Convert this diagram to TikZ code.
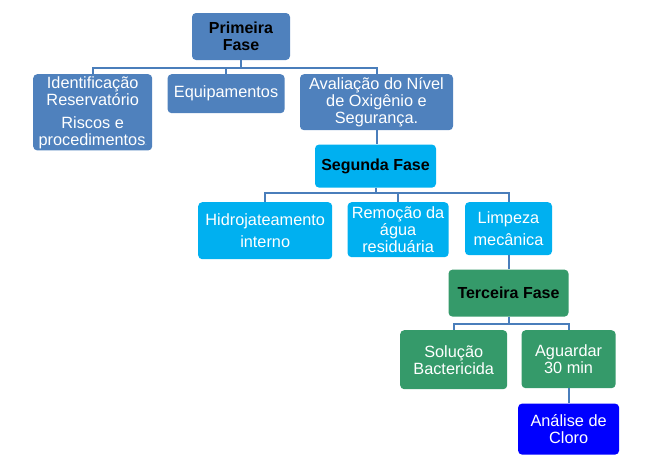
\documentclass[tikz,border=0pt]{standalone}
\usepackage{fontspec}
\setmainfont{Liberation Sans}
\usetikzlibrary{positioning}
\definecolor{azul}{HTML}{4F81BD}
\definecolor{linha}{HTML}{4A7EBB}
\definecolor{ciano}{HTML}{00B0F0}
\definecolor{verde}{HTML}{359A6A}
\definecolor{anil}{HTML}{0000FF}
\tikzset{
    x=1pt, y=-1pt, % pixel units, y downwards
    node distance=15pt, % gap between boxes in a row
    caixa/.style={rounded corners=4pt, inner sep=2pt, align=center,
        font=\fontsize{16.3}{17}\selectfont}, % common box
    fase/.style={caixa, text=black, font=\fontsize{16}{17}\selectfont\bfseries},
    item/.style={caixa, text=white},
    elo/.style={draw=linha, line width=2pt}, % connectors
}
\begin{document}
\begin{tikzpicture}
    \useasboundingbox (0,0) rectangle (664,471);

    % first phase
    \node[fase, fill=azul, minimum width=98pt, minimum height=47pt] (f1) at (241,36.5) {Primeira\\Fase};
    \node[item, fill=azul, anchor=north west, minimum width=119pt, minimum height=75pt] (ident) at (33,74)
        {Identificação\\Reservatório\\[6pt]Riscos e\\procedimentos\raisebox{0pt}{\tiny.}};
    \node[item, fill=azul, right=of ident.north east, anchor=north west, minimum width=117pt, minimum height=39pt] (equip) {Equipamentos};
    \node[item, fill=azul, right=of equip.north east, anchor=north west, minimum width=153pt, minimum height=56pt] (aval)
        {Avaliação do Nível\\de Oxigênio e\\Segurança.};

    % second phase
    \node[fase, fill=ciano, below=14pt of aval, xshift=-1pt, minimum width=121pt, minimum height=43pt] (f2) {Segunda Fase};
    \node[item, fill=ciano, anchor=north west, minimum width=134pt, minimum height=57pt] (hidro) at (198,202)
        {Hidrojateamento\\[5pt]interno};
    \node[item, fill=ciano, right=of hidro.north east, anchor=north west, minimum width=101pt, minimum height=55pt] (remo)
        {Remoção da\\água\\residuária};
    \node[item, fill=ciano, right=16pt of remo.north east, anchor=north west, minimum width=87pt, minimum height=53pt] (limp)
        {Limpeza\\[5pt]mecânica};

    % third phase
    \node[fase, fill=verde, below=14pt of limp, minimum width=120pt, minimum height=47pt] (f3) {Terceira Fase};
    \node[item, fill=verde, anchor=north west, minimum width=107pt, minimum height=59pt] (sol) at (400,330)
        {Solução\\Bactericida};
    \node[item, fill=verde, right=14pt of sol.north east, anchor=north west, minimum width=94pt, minimum height=58pt] (agu)
        {Aguardar\\30 min};
    \node[item, fill=anil, below=15pt of agu, minimum width=101pt, minimum height=51pt] (clo) {Análise de\\Cloro};

    % connectors
    \draw[elo] (f1.south) -- +(0,8) -| (ident.north);
    \draw[elo] (f1.south) -- +(0,8) -| (equip.north);
    \draw[elo] (f1.south) -- +(0,8) -| (aval.north);
    \draw[elo] (aval.south) -- (aval.south |- f2.north);
    \draw[elo] (f2.south) -- +(0,5) -| (hidro.north);
    \draw[elo] (f2.south) -- +(0,5) -| (remo.north);
    \draw[elo] (f2.south) -- +(0,5) -| (limp.north);
    \draw[elo] (limp.south) -- (f3.north);
    \draw[elo] (f3.south) -- +(0,7) -| (sol.north);
    \draw[elo] (f3.south) -- +(0,7) -| (agu.north);
    \draw[elo] (agu.south) -- (clo.north);
\end{tikzpicture}
\end{document}
